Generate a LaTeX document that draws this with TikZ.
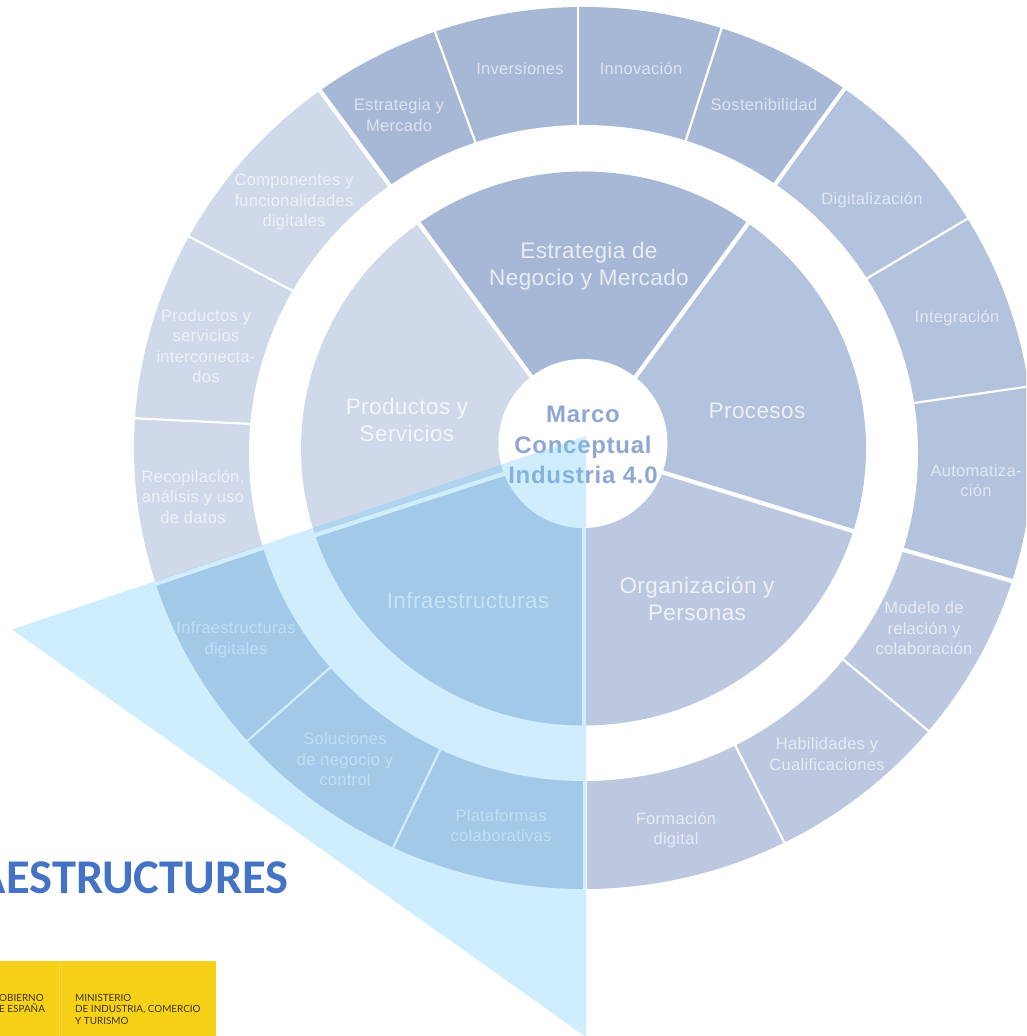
\documentclass[tikz,border=0pt]{standalone}
\usepackage{fontspec}
\setmainfont{Liberation Sans}
\newfontfamily\wheelfont[LetterSpace=1.8]{Liberation Sans}
\newfontfamily\hubfont[LetterSpace=3]{Liberation Sans}
\newfontfamily\titlefont{Carlito}
\newfontfamily\logofont{Lato}
\definecolor{cStrat}{HTML}{A7B7D6}
\definecolor{cProc}{HTML}{B3C2DD}
\definecolor{cOrg}{HTML}{BCC8E0}
\definecolor{cProd}{HTML}{D0D9E9}
\definecolor{cHub}{HTML}{8FA7D2}
\definecolor{cOver}{RGB}{115,205,249}
\definecolor{cTitle}{HTML}{4472C4}
\definecolor{cLogo}{HTML}{F7D117}
\definecolor{cLogoLine}{HTML}{F9DC50}
\definecolor{cLogoText}{HTML}{3D3412}
\newcommand{\outerpie}[3]{%
  \fill[#3] (0,0) -- (#1:449.5pt and 441pt) arc[start angle=#1,end angle=#2,x radius=449.5pt,y radius=441pt] -- cycle;
}
\newcommand{\innerpie}[3]{%
  \fill[#3] (0,0) -- (#1:282.5pt and 277pt) arc[start angle=#1,end angle=#2,x radius=282.5pt,y radius=277pt] -- cycle;
}
\tikzset{
  outerlab/.style={text=white,text opacity=.62,align=center,font=\wheelfont\fontsize{16.5}{20.5}\selectfont,inner sep=0pt},
  innerlab/.style={text=white,text opacity=.74,align=center,font=\wheelfont\fontsize{22.5}{27}\selectfont,inner sep=0pt},
  hublab/.style={text=cHub,align=center,font=\hubfont\bfseries\fontsize{24}{30.5}\selectfont,inner sep=0pt},
  mainsep/.style={draw=white,line width=4.2pt},
  minorsep/.style={draw=white,line width=2.2pt},
  logolab/.style={anchor=north west,inner sep=0pt,align=left,text=cLogoText,font=\logofont\fontsize{9.9}{11.6}\selectfont}
}
\begin{document}
\begin{tikzpicture}[x=1pt,y=1pt]
\useasboundingbox (0,0) rectangle (1026,1036);
\clip (0,0) rectangle (1026,1036);
\begin{scope}[shift={(583.5,588)}]
  \outerpie{54}{126}{cStrat}
  \outerpie{-18}{54}{cProc}
  \outerpie{-90}{-18}{cOrg}
  \outerpie{198}{270}{cOrg}
  \outerpie{126}{198}{cProd}
\end{scope}
% white band between the outer ring and the inner disc
\fill[white] (583.5,583) ellipse[x radius=334.5pt,y radius=328pt];
\begin{scope}[shift={(583.5,587.5)}]
  \innerpie{54}{126}{cStrat}
  \innerpie{-18}{54}{cProc}
  \innerpie{-90}{-18}{cOrg}
  \innerpie{198}{270}{cOrg}
  \innerpie{126}{198}{cProd}
\end{scope}
\begin{scope}[yshift=1036pt,y=-1pt]
  % main separators of the inner disc
  \draw[mainsep] (583.5,448) -- (415,218);
  \draw[mainsep] (583.5,448) -- (752,218);
  \draw[mainsep] (583.5,448) -- (856,532);
  \draw[mainsep] (583.5,448) -- (311,536.5);
  \draw[mainsep] (584,448) -- (584,730);
  % main separators of the outer ring
  \draw[mainsep] (317,86.5) -- (391,187);
  \draw[mainsep] (848,84) -- (774,186);
  \draw[mainsep] (1020,583.3) -- (900,548.9);
  \draw[mainsep] (585,776) -- (585,895);
  \draw[mainsep] (152,585) -- (265,547);
  % minor separators of the outer ring
  \draw[minorsep] (434,29) -- (476,144);
  \draw[minorsep] (578.3,3) -- (578.3,128);
  \draw[minorsep] (723,24) -- (685,143);
  \draw[minorsep] (972,216) -- (866,279);
  \draw[minorsep] (1032,386) -- (914,403);
  \draw[minorsep] (931,733) -- (842,658.5);
  \draw[minorsep] (786,846) -- (734,743);
  \draw[minorsep] (391,852) -- (441,748);
  \draw[minorsep] (245,743) -- (332,666);
  \draw[minorsep] (130,418) -- (252,424);
  \draw[minorsep] (186,235) -- (295,292);
  % hub
  \fill[white] (583,443.5) circle[radius=84.5pt];
  % inner labels
  \node[innerlab] (nStrat) at (589,266.5) {Estrategia de\\Negocio y Mercado};
  \node[innerlab] (nProc) at (757,410.5) {Procesos};
  \node[innerlab] (nOrg) at (697,599) {Organización y\\Personas};
  \node[innerlab] (nInfra) at (468,600.5) {Infraestructuras};
  \node[innerlab] (nProd) at (407,420) {Productos y\\Servicios};
  \node[hublab] (nHub) at (583,445) {Marco\\Conceptual\\Industria 4.0};
  % outer labels
  \node[outerlab] (o1) at (399,115) {Estrategia y\\Mercado};
  \node[outerlab] (o2) at (520,69) {Inversiones};
  \node[outerlab] (o3) at (641,69) {Innovación};
  \node[outerlab] (o4) at (764,105) {Sostenibilidad};
  \node[outerlab] (o5) at (872,200.5) {Digitalización};
  \node[outerlab] (o6) at (957,318.5) {Integración};
  \node[outerlab] (o7) at (976,480.5) {Automatiza-\\ción};
  \node[outerlab] (o8) at (924,628.5) {Modelo de\\relación y\\colaboración};
  \node[outerlab] (o9) at (827,754) {Habilidades y\\Cualificaciones};
  \node[outerlab] (o10) at (676,830) {Formación\\digital};
  \node[outerlab] (o11) at (501,825.5) {Plataformas\\colaborativas};
  \node[outerlab] (o12) at (345,759.5) {Soluciones\\de negocio y\\control};
  \node[outerlab] (o13) at (236,639.5) {Infraestructuras\\digitales};
  \node[outerlab] (o14) at (193,497) {Recopilación,\\análisis y uso\\de datos};
  \node[outerlab] (o15) at (206,346) {Productos y\\servicios\\interconecta-\\dos};
  \node[outerlab] (o16) at (294,202) {Componentes y\\funcionalidades\\digitales};
  % translucent overlay
  \fill[cOver,fill opacity=.343] (586,436) -- (12,629.5) -- (586,1037) -- cycle;
  % title
  \node[anchor=east,inner sep=0pt,text=cTitle,font=\titlefont\bfseries\fontsize{48.5}{48.5}\selectfont] (nTitle) at (289,878) {AESTRUCTURES};
  % logo
  \fill[cLogo] (0,961) rectangle (216,1036);
  \draw[cLogoLine,line width=.7pt] (59.5,961) -- (59.5,1036);
  \node[logolab] (nGov) at (-1,994) {OBIERNO\\E ESPAÑA};
  \node[logolab] (nMin) at (75,994) {MINISTERIO\\DE INDUSTRIA, COMERCIO\\Y TURISMO};
\end{scope}
\end{tikzpicture}
\end{document}
